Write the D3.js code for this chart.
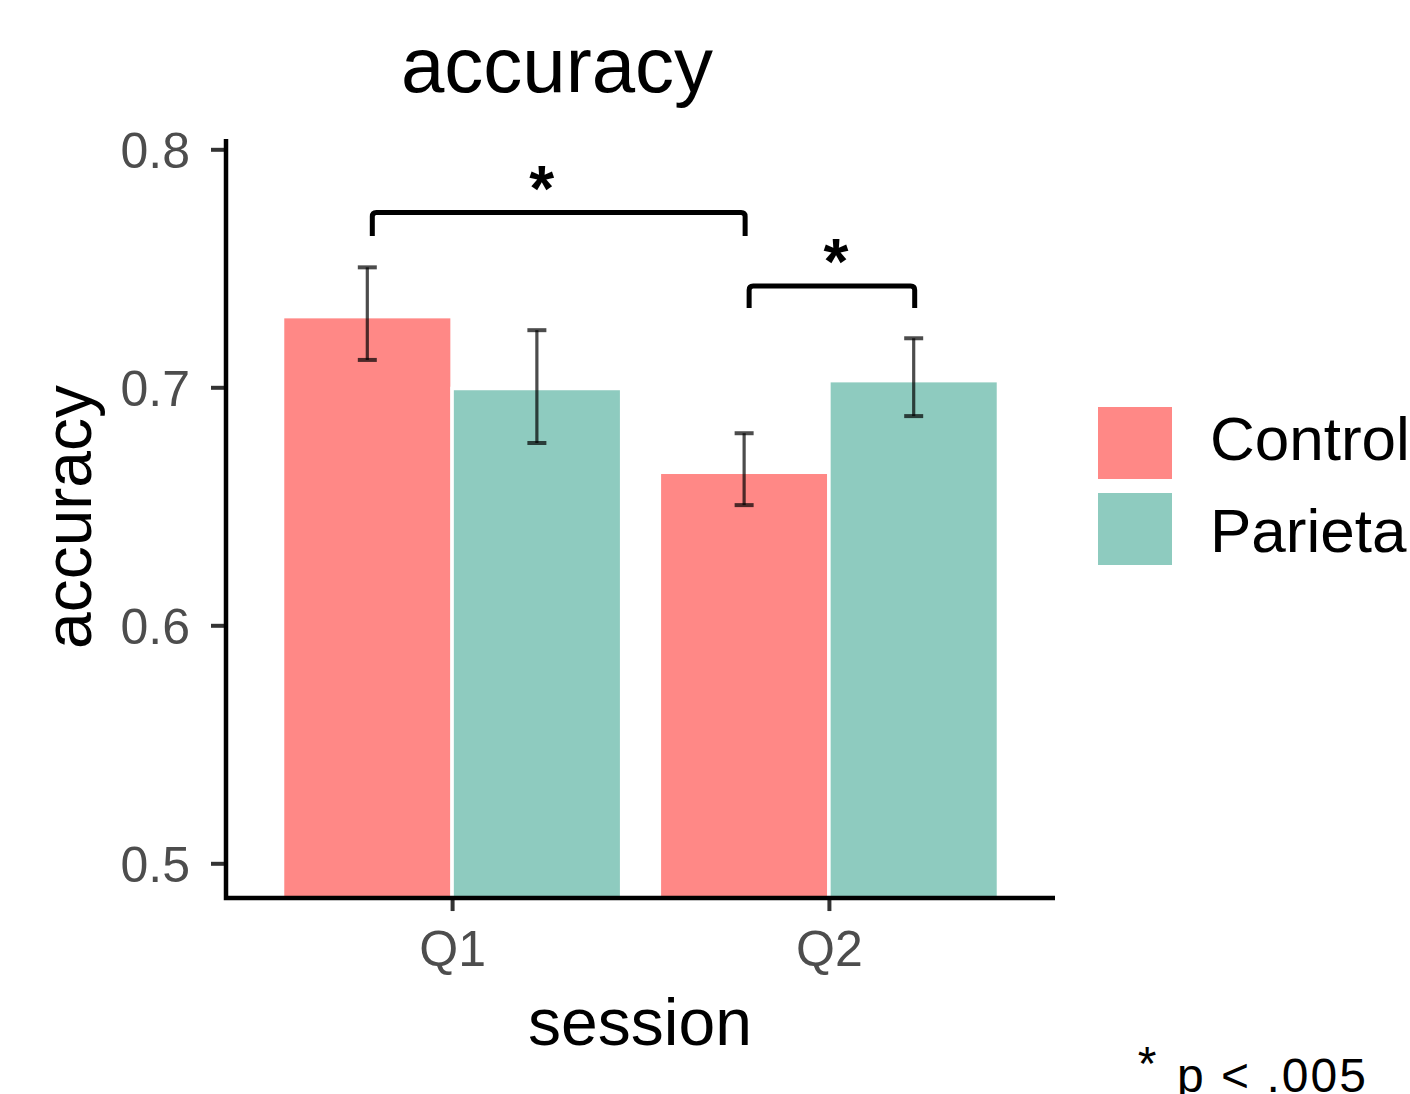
<!DOCTYPE html>
<html>
<head>
<meta charset="utf-8">
<script src="https://cdn.jsdelivr.net/npm/d3@7"></script>
<style>
  html, body { margin: 0; padding: 0; background: #ffffff; }
  svg { display: block; }
  text { font-family: "Liberation Sans", Arial, Helvetica, sans-serif; }
</style>
</head>
<body>
<svg id="chart" width="1410" height="1094"></svg>
<script>
// ---- data ----
const sessions = ["Q1", "Q2"];
const groups = ["Control", "Parietal"];
const controlMean = [0.7297, 0.6643];
const parietalMean = [0.6995, 0.7028];
const controlLow = [0.7115, 0.6505];
const controlHigh = [0.7504, 0.6807];
const parietalLow = [0.6766, 0.6879];
const parietalHigh = [0.7240, 0.7206];
const yTicks = [0.5, 0.6, 0.7, 0.8];
const yTickLabels = ["0.5", "0.6", "0.7", "0.8"];
const groupColors = ["#FF8886", "#8ECBBF"];
// significance brackets: [session, group] start -> [session, group] end
const brackets = [
  { from: ["Q1", "Control"], to: ["Q2", "Control"], top: 0.7734, leg: 0.7636, label: "*" },
  { from: ["Q2", "Control"], to: ["Q2", "Parietal"], top: 0.7426, leg: 0.7333, label: "*" }
];
const titleText = "accuracy";
const xTitle = "session";
const yTitle = "accuracy";
const footnote = "p < .005";

const rows = [];
sessions.forEach((s, i) => {
  rows.push({ session: s, group: "Control", mean: controlMean[i], lo: controlLow[i], hi: controlHigh[i] });
  rows.push({ session: s, group: "Parietal", mean: parietalMean[i], lo: parietalLow[i], hi: parietalHigh[i] });
});

// ---- layout ----
const svg = d3.select("#chart");
const axisLeft = 226, axisRight = 1055;
const yMinDom = 0.4854, yMaxDom = 0.8043;

const y = d3.scaleLinear().domain([0.5, 0.8]).range([863.3, 149.3]);
const yBottom = y(yMinDom), yTop = y(yMaxDom);

const x = d3.scalePoint().domain(sessions).range([axisLeft, axisRight]).padding(0.6);
const step = x.step();
const xg = d3.scaleBand().domain(groups).range([-0.45 * step, 0.45 * step]).padding(0);
const color = d3.scaleOrdinal().domain(groups).range(groupColors);
const barCenter = (s, g) => x(s) + xg(g) + xg.bandwidth() / 2;

// bars
svg.append("g").selectAll("rect").data(rows).join("rect")
  .attr("x", d => x(d.session) + xg(d.group))
  .attr("y", d => y(d.mean))
  .attr("width", xg.bandwidth())
  .attr("height", d => yBottom - y(d.mean))
  .attr("fill", d => color(d.group))
  .attr("stroke", "#ffffff")
  .attr("stroke-width", 3.5);

// error bars
const eb = svg.append("g").attr("stroke", "#000").attr("stroke-opacity", 0.7).attr("stroke-width", 3.2);
rows.forEach(d => {
  const cx = barCenter(d.session, d.group);
  eb.append("line").attr("x1", cx).attr("x2", cx).attr("y1", y(d.hi)).attr("y2", y(d.lo));
  eb.append("line").attr("x1", cx - 9.5).attr("x2", cx + 9.5).attr("y1", y(d.hi)).attr("y2", y(d.hi)).attr("stroke-width", 4);
  eb.append("line").attr("x1", cx - 9.5).attr("x2", cx + 9.5).attr("y1", y(d.lo)).attr("y2", y(d.lo)).attr("stroke-width", 4);
});

// axes
const yAxis = d3.axisLeft(y).tickValues(yTicks).tickFormat((d, i) => yTickLabels[i]).tickSize(15).tickPadding(21);
const gy = svg.append("g").attr("transform", `translate(${axisLeft},0)`).call(yAxis);
gy.select(".domain").remove();
gy.selectAll(".tick line").attr("stroke", "#333333").attr("stroke-width", 4);
gy.selectAll(".tick text").attr("fill", "#4D4D4D").attr("font-size", 50).attr("dy", "0.36em")
  .attr("font-family", "Liberation Sans, Arial, sans-serif");

const xAxis = d3.axisBottom(x).tickSize(13).tickPadding(19);
const gx = svg.append("g").attr("transform", `translate(0,${yBottom})`).call(xAxis);
gx.select(".domain").remove();
gx.selectAll(".tick line").attr("stroke", "#333333").attr("stroke-width", 4);
gx.selectAll(".tick text").attr("fill", "#4D4D4D").attr("font-size", 50).attr("dy", "0.71em")
  .attr("font-family", "Liberation Sans, Arial, sans-serif");

// axis lines
svg.append("path")
  .attr("d", `M${axisLeft},${yTop}V${yBottom}H${axisRight}`)
  .attr("fill", "none").attr("stroke", "#000").attr("stroke-width", 4.5);

// significance brackets
const labelShift = [-17, 4];
const bg = svg.append("g");
brackets.forEach((b, i) => {
  const x1 = barCenter(b.from[0], b.from[1]) + 5;
  const x2 = barCenter(b.to[0], b.to[1]) + 1;
  const yt = y(b.top), yl = y(b.leg);
  const r = 4;
  bg.append("path")
    .attr("d", `M${x1},${yl}V${yt + r}Q${x1},${yt} ${x1 + r},${yt}H${x2 - r}Q${x2},${yt} ${x2},${yt + r}V${yl}`)
    .attr("fill", "none").attr("stroke", "#000").attr("stroke-width", 5);
  bg.append("text")
    .attr("x", (x1 + x2) / 2 + labelShift[i]).attr("y", yt - 2)
    .attr("text-anchor", "middle")
    .attr("font-size", 64).attr("font-weight", "bold")
    .text(b.label);
});

// titles
svg.append("text").attr("x", 557).attr("y", 92).attr("text-anchor", "middle")
  .attr("font-size", 78).attr("fill", "#000").text(titleText);
svg.append("text").attr("x", 640).attr("y", 1045).attr("text-anchor", "middle")
  .attr("font-size", 66).attr("fill", "#000").text(xTitle);
svg.append("text").attr("transform", "translate(91,517) rotate(-90)").attr("text-anchor", "middle")
  .attr("font-size", 66).attr("fill", "#000").text(yTitle);

// legend
const lg = svg.append("g");
groups.forEach((g, i) => {
  lg.append("rect").attr("x", 1098).attr("y", 407 + i * 86).attr("width", 74).attr("height", 72)
    .attr("fill", color(g));
  lg.append("text").attr("x", 1210).attr("y", 460 + i * 92).attr("font-size", 62).attr("fill", "#000").text(g);
});

// footnote
svg.append("text").attr("x", 1147).attr("y", 1080).attr("text-anchor", "middle")
  .attr("font-size", 48).attr("fill", "#000").text("*");
svg.append("text").attr("x", 1177).attr("y", 1092).attr("font-size", 48).attr("letter-spacing", 2)
  .attr("fill", "#000").text(footnote);
</script>
</body>
</html>
